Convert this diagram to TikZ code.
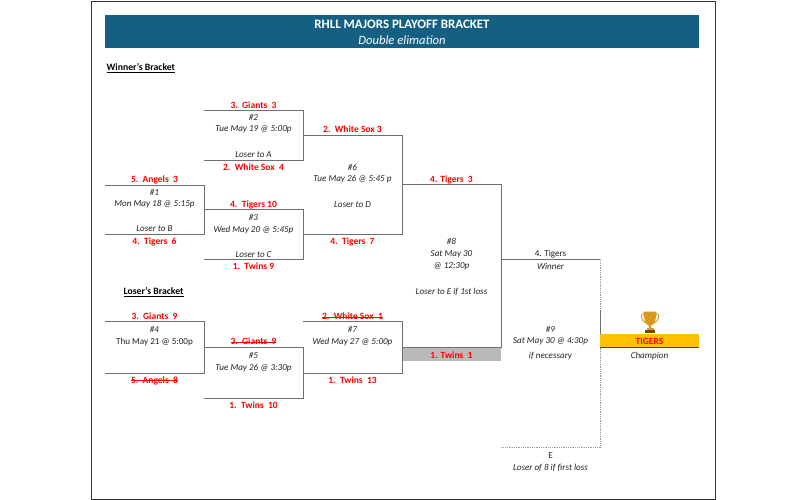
\documentclass[tikz,border=0pt]{standalone}
\usepackage{fontspec}
\setmainfont{Carlito}
\definecolor{banner}{HTML}{156082}
\definecolor{gold}{HTML}{FFC000}
\definecolor{cupgold}{HTML}{D9991E}
\definecolor{cupdark}{HTML}{8A5A14}
\definecolor{lineg}{HTML}{6F6F6F}
\definecolor{dotg}{HTML}{999999}
\definecolor{txt}{HTML}{222222}
\newcommand\stk[1]{\setbox0=\hbox{#1}\rlap{\color{red}\rule[0.26em]{\wd0}{0.5pt}}\box0 }
\tikzset{
  team/.style={font=\fontsize{9.5}{10}\selectfont\bfseries, text=red, inner sep=0pt, anchor=center, yshift=-0.5pt},
  info/.style={font=\fontsize{9.1}{10}\selectfont\itshape, text=txt, inner sep=0pt, anchor=center, yshift=-0.6pt},
  plain/.style={font=\fontsize{9.1}{10}\selectfont, text=txt, inner sep=0pt, anchor=center, yshift=-0.6pt},
  head/.style={font=\fontsize{9.7}{10}\selectfont\bfseries, text=black, inner sep=0pt, anchor=west},
  br/.style={draw=lineg, line width=0.9pt},
  dots/.style={draw=dotg, line width=0.8pt, densely dotted},
}
\begin{document}
\begin{tikzpicture}[x=1pt,y=-1pt]
\useasboundingbox (0,0) rectangle (805,500);
\fill[white] (0,0) rectangle (805,500);
\draw[black!80, line width=1pt] (91,2) rectangle (715,499);
% banner
\fill[banner] (105,15) rectangle (699,48);
\node[font=\fontsize{12.9}{13}\selectfont\bfseries, text=white, inner sep=0pt] (title) at (402,24) {RHLL MAJORS PLAYOFF BRACKET};
\node[font=\fontsize{12.6}{13}\selectfont\itshape, text=white, inner sep=0pt] (subtitle) at (402,40.5) {Double elimation};
\node[head] (wb) at (106.5,68) {\underline{Winner's Bracket}};
\node[head] (lb) at (123.5,292) {\underline{Loser's Bracket}};
% grey band
\fill[black!27] (402,347.3) rectangle (501,361);
% bracket corners
\foreach \n/\x/\y in {
 a1/105/185, a2/204/185, a3/204/234.7, a4/105/234.7,
 b1/204/110, b2/303/110, b3/303/160, b4/204/160,
 c1/204/209.7, c2/303/209.7, c3/303/259.3, c4/204/259.3,
 f1/303/135, f2/402/135, f3/402/234.7, f4/303/234.7,
 d1/105/321.7, d2/204/321.7, d3/204/373.3, d4/105/373.3,
 e1/204/347.7, e2/303/347.7, e3/303/398.3, e4/204/398.3,
 g1/303/321.7, g2/402/321.7, g3/402/373.3, g4/303/373.3,
 h1/402/184.7, h2/501/184.7, h3/501/347.3, h4/402/347.3,
 i1/501/259.3, i2/600/259.3, i3/600/447.7, i4/501/447.7,
 j1/600/310, j2/600/347.3}
 {\coordinate (\n) at (\x,\y);}
\foreach \n in {a,b,c,f,d,e,g,h}
 \draw[br] (\n1) -- (\n2) -- (\n3) -- (\n4);
\draw[br] (i1) -- (i2);
\draw[dots] (i2) -- (i3) -- (i4);
\draw[br] (j1) -- (j2);
% champion box
\fill[gold] (600,334) rectangle (699,347.3);
\draw[cupdark!70!black, line width=0.9pt] (600,347.6) -- (699,347.6);
% trophy
\draw[cupgold, line width=0.9pt, fill=none] (644.5,313.5) .. controls (639.5,313) and (640.5,321) .. (646.5,323.5);
\draw[cupgold, line width=0.9pt, fill=none] (655.5,313.5) .. controls (660.5,313) and (659.5,321) .. (653.5,323.5);
\fill[cupgold] (643.5,311.5) -- (656.5,311.5) .. controls (656.5,320) and (654,324.5) .. (651.2,325.5) -- (651.2,328.5) -- (648.8,328.5) -- (648.8,325.5) .. controls (646,324.5) and (643.5,320) .. (643.5,311.5) -- cycle;
\fill[cupgold] (646.5,328) rectangle (653.5,329.8);
\fill[cupdark!80!black] (645,329.8) rectangle (655,332.5);
% game 1
\node[team] (t1a) at (154.5,179) {5.\ \ Angels\ \ 3};
\node[info] (n1a) at (154.5,191.5) {\#1};
\node[info] (n1b) at (154.5,204) {Mon May 18 @ 5:15p};
\node[info] (n1c) at (154.5,228.5) {Loser to B};
\node[team] (t1b) at (154.5,241) {4.\ \ Tigers\ \ 6};
% game 2
\node[team] (t2a) at (253.5,104.5) {3.\ \ Giants\ \ 3};
\node[info] (n2a) at (253.5,117) {\#2};
\node[info] (n2b) at (253.5,129) {Tue May 19 @ 5:00p};
\node[info] (n2c) at (253.5,154) {Loser to A};
\node[team] (t2b) at (253.5,166.5) {2.\ \ White Sox\ \ 4};
% game 3
\node[team] (t3a) at (253.5,204) {4.\ \ Tigers 10};
\node[info] (n3a) at (253.5,216.5) {\#3};
\node[info] (n3b) at (253.5,229) {Wed May 20 @ 5:45p};
\node[info] (n3c) at (253.5,253.5) {Loser to C};
\node[team] (t3b) at (253.5,266) {1.\ \ Twins 9};
% game 6
\node[team] (t6a) at (352.5,129) {2.\ \ White Sox 3};
\node[info] (n6a) at (352.5,166.5) {\#6};
\node[info] (n6b) at (352.5,179) {Tue May 26 @ 5:45 p};
\node[info] (n6c) at (352.5,204) {Loser to D};
\node[team] (t6b) at (352.5,241) {4.\ \ Tigers\ \ 7};
% game 4
\node[team] (t4a) at (154.5,316) {3.\ \ Giants\ \ 9};
\node[info] (n4a) at (154.5,328.5) {\#4};
\node[plain] (n4b) at (154.5,341) {Thu May 21 @ 5:00p};
\node[team] (t4b) at (154.5,380) {\stk{5.\ \ Angels\ \ 8}};
% game 5
\node[team] (t5a) at (253.5,341) {\stk{3.\ \ Giants\ \ 9}};
\node[info] (n5a) at (253.5,355) {\#5};
\node[info] (n5b) at (253.5,367.5) {Tue May 26 @ 3:30p};
\node[team] (t5b) at (253.5,405) {1.\ \ Twins\ \ 10};
% game 7
\node[team] (t7a) at (352.5,316) {\stk{2.\ \ White Sox\ \ 1}};
\node[info] (n7a) at (352.5,328.5) {\#7};
\node[info] (n7b) at (352.5,341) {Wed May 27 @ 5:00p};
\node[team] (t7b) at (352.5,380) {1.\ \ Twins\ \ 13};
% game 8
\node[team] (t8a) at (451.5,179) {4. Tigers\ \ 3};
\node[info] (n8a) at (451.5,241) {\#8};
\node[info] (n8b) at (451.5,253.5) {Sat May 30};
\node[info] (n8c) at (451.5,266) {@ 12:30p};
\node[info] (n8d) at (451.5,291) {Loser to E if 1st loss};
\node[team] (t8b) at (451.5,354.5) {1. Twins\ \ 1};
% game 9
\node[plain] (n9w) at (550.5,253.5) {4. Tigers};
\node[info] (n9x) at (550.5,266) {Winner};
\node[info] (n9a) at (550.5,328.5) {\#9};
\node[info] (n9b) at (550.5,341) {Sat May 30 @ 4:30p};
\node[info] (n9c) at (550.5,355) {if necessary};
\node[plain] (n9e) at (550.5,454.5) {E};
\node[info] (n9f) at (550.5,467) {Loser of 8 if first loss};
% champion
\node[team] (champ) at (649.5,341) {TIGERS};
\node[info] (champl) at (649.5,355) {Champion};
\end{tikzpicture}
\end{document}
